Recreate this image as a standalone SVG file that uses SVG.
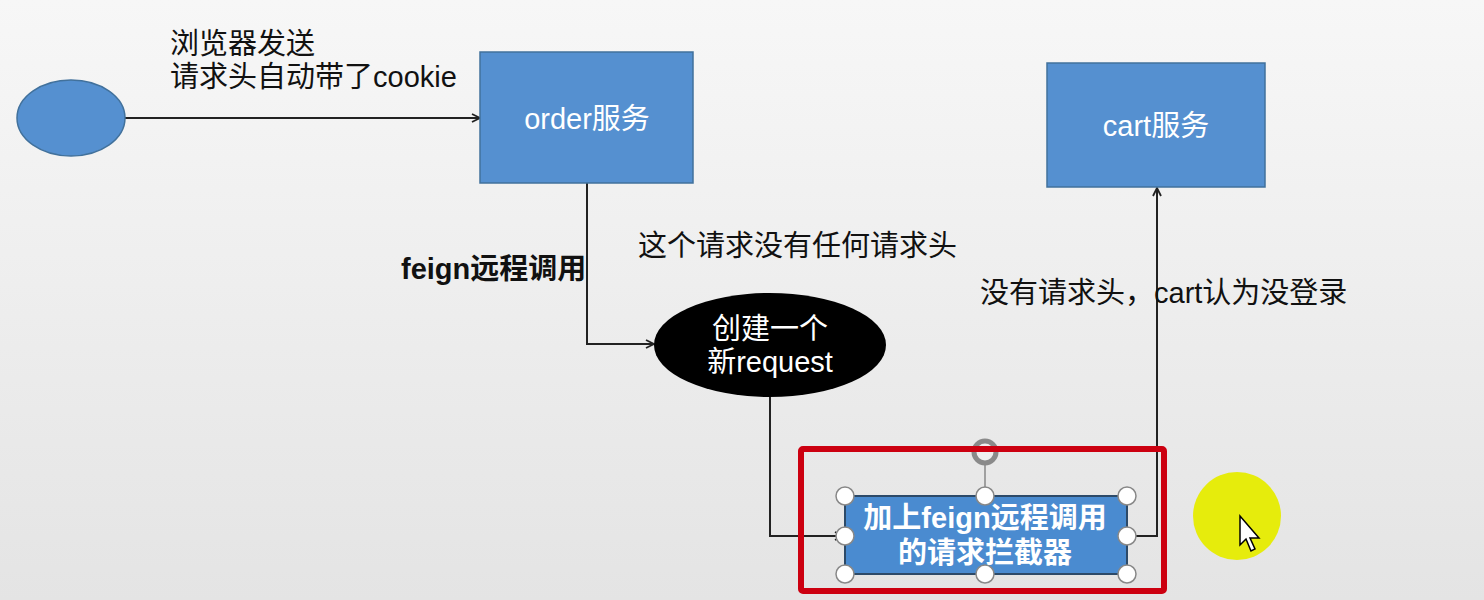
<svg xmlns="http://www.w3.org/2000/svg" width="1484" height="600" viewBox="0 0 1484 600">
<defs>
<linearGradient id="bg" x1="0" y1="0" x2="0" y2="1">
<stop offset="0" stop-color="#f7f7f7"/>
<stop offset="1" stop-color="#e4e4e4"/>
</linearGradient>
<marker id="arr" viewBox="0 0 10 10" refX="9" refY="5" markerWidth="10" markerHeight="10" markerUnits="userSpaceOnUse" orient="auto">
<path d="M1,1 L9,5 L1,9" fill="none" stroke="#222" stroke-width="1.8"/>
</marker>
</defs>
<style>
.t{font-family:"Liberation Sans","Noto Sans CJK SC",sans-serif;fill:#111;font-size:29px}
.w{font-family:"Liberation Sans","Noto Sans CJK SC",sans-serif;fill:#fff;font-size:29px;text-anchor:middle}
.box{fill:#5590d0;stroke:#41719c;stroke-width:1.5}
.con{fill:none;stroke:#222;stroke-width:2;marker-end:url(#arr)}
.h{fill:#fff;stroke:#888;stroke-width:1.5}
</style>
<rect width="1484" height="600" fill="url(#bg)"/>
<g id="connectors">
<path class="con" d="M125,118 L480,118"/>
<path class="con" d="M587,183 L587,344 L654,344"/>
<path class="con" d="M770,397 L770,536 L843,536"/>
<path class="con" d="M1127,536 L1157,536 L1157,188"/>
</g>
<g id="start"><ellipse cx="71" cy="118" rx="54" ry="38" class="box"/></g>
<g id="order"><rect x="480" y="52" width="213" height="131" class="box"/><text class="w" x="587" y="129">order服务</text></g>
<g id="cart"><rect x="1047" y="63" width="218" height="124" class="box"/><text class="w" x="1156" y="136">cart服务</text></g>
<g id="newreq"><ellipse cx="770" cy="345" rx="116" ry="52" fill="#000"/><text class="w" x="770" y="339">创建一个</text><text class="w" x="770" y="372">新request</text></g>
<g id="interceptor">
<rect x="845" y="496" width="282" height="78" fill="#4a8bd0" stroke="#2d4a68" stroke-width="2"/>
<text class="w" x="985" y="528" font-weight="bold">加上feign远程调用</text>
<text class="w" x="985" y="563" font-weight="bold">的请求拦截器</text>
</g>
<g id="labels">
<text class="t" x="170" y="54">浏览器发送</text>
<text class="t" x="170" y="87">请求头自动带了cookie</text>
<text class="t" x="401" y="279" font-weight="bold">feign远程调用</text>
<text class="t" x="638" y="256">这个请求没有任何请求头</text>
<text class="t" x="980" y="303">没有请求头，cart认为没登录</text>
</g>
<g id="selection">
<line x1="985" y1="456" x2="985" y2="496" stroke="#888" stroke-width="1.5"/>
<circle cx="985" cy="452" r="11" fill="#f0f0f0" stroke="#8a8a8a" stroke-width="5"/>
<circle class="h" cx="845" cy="496" r="9"/><circle class="h" cx="985" cy="496" r="9"/><circle class="h" cx="1127" cy="496" r="9"/>
<circle class="h" cx="845" cy="536" r="9"/><circle class="h" cx="1127" cy="536" r="9"/>
<circle class="h" cx="845" cy="574" r="9"/><circle class="h" cx="985" cy="574" r="9"/><circle class="h" cx="1127" cy="574" r="9"/>
<rect x="801" y="449" width="363" height="142" fill="none" stroke="#cc0010" stroke-width="6" rx="2"/>
</g>
<g id="cursor">
<circle cx="1237" cy="516" r="44" fill="#e6ec00" opacity="0.95"/>
<path d="M1240,516 L1240,545 L1246,539 L1251,551 L1255,549 L1250,538 L1259,538 Z" fill="#fff" stroke="#000" stroke-width="1.5"/>
</g>
</svg>
